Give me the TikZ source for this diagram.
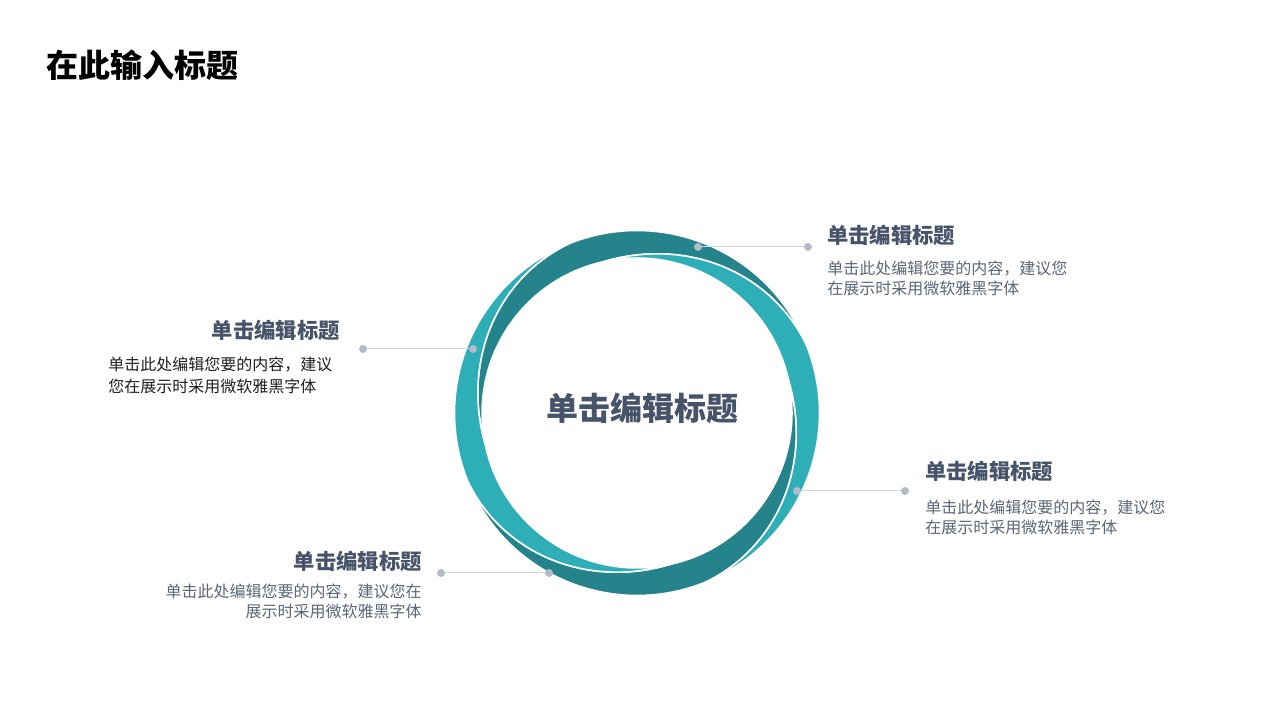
\documentclass[tikz,border=0pt]{standalone}
\usepackage{fontspec}
\setmainfont{Noto Sans CJK SC}
\definecolor{lightteal}{HTML}{2EAFB8}
\definecolor{darkteal}{HTML}{24838B}
\definecolor{slate}{HTML}{465369}
\definecolor{bodygray}{HTML}{5C6677}
\definecolor{dotgray}{HTML}{B3BBC9}
\definecolor{linegray}{HTML}{D3D8DF}
% one spiral piece of the ring: #1 = angle where its cut leaves the inner circle, #2 = colour
\newcommand\ringpiece[2]{%
  \path[fill=#2, draw=white, line width=1.2pt]
    plot[domain=0:1, samples=50, variable=\t] ({#1-80*\t}:{155+27.5*(0.6*\t+0.2-0.2*cos(180*\t))})
    arc[start angle=#1-80, end angle=#1-170, radius=182.5]
    -- plot[domain=1:0, samples=50, variable=\t] ({#1-90-80*\t}:{155+27.5*(0.6*\t+0.2-0.2*cos(180*\t))})
    arc[start angle=#1-90, end angle=#1, radius=155]
    -- cycle;}
\tikzset{
  headtxt/.style={inner sep=0pt, text=slate, font=\fontsize{16}{19}\selectfont\bfseries},
  bodytxt/.style={inner sep=0pt, text=bodygray, font=\fontsize{12}{15}\selectfont},
  dotmark/.style={circle, fill=dotgray, inner sep=0pt, minimum size=6pt},
  leader/.style={draw=linegray, line width=0.75pt}
}
\begin{document}
\begin{tikzpicture}[x=0.75pt,y=0.75pt]
\useasboundingbox (0,0) rectangle (1280,720);
\fill[white] (0,0) rectangle (1280,720);

% title
\node[anchor=west, inner sep=0pt, font=\fontsize{24}{28}\selectfont\bfseries] (title) at (46,655) {在此输入标题};

% ring of four interlocking spiral pieces
\begin{scope}[shift={(637,307)}]
  \ringpiece{192}{darkteal}
  \ringpiece{102}{lightteal}
  \ringpiece{12}{darkteal}
  \ringpiece{-78}{lightteal}
\end{scope}

% center text
\node[inner sep=0pt, text=slate, font=\fontsize{24}{28}\selectfont\bfseries] (center) at (642,312) {单击编辑标题};

% leaders and dots
\node[dotmark] (r1) at (698,473) {};
\node[dotmark] (e1) at (808,473) {};
\node[dotmark] (e2) at (363,371) {};
\node[dotmark] (r2) at (473,371) {};
\node[dotmark] (r3) at (797,229) {};
\node[dotmark] (e3) at (905,229) {};
\node[dotmark] (e4) at (441,147) {};
\node[dotmark] (r4) at (549,147) {};
\draw[leader] (r1) -- (e1);
\draw[leader] (e2) -- (r2);
\draw[leader] (r3) -- (e3);
\draw[leader] (e4) -- (r4);

% top right block
\node[headtxt, anchor=west] (h1) at (827,485) {单击编辑标题};
\node[bodytxt, anchor=west, align=left] (b1) at (827,442) {单击此处编辑您要的内容，建议您\\在展示时采用微软雅黑字体};

% left block
\node[headtxt, anchor=east] (h2) at (340,390) {单击编辑标题};
\node[bodytxt, anchor=west, align=left, text=black!88, font=\fontsize{12}{16.5}\selectfont] (b2) at (108,345) {单击此处编辑您要的内容，建议\\您在展示时采用微软雅黑字体};

% right block
\node[headtxt, anchor=west] (h3) at (925,249) {单击编辑标题};
\node[bodytxt, anchor=west, align=left] (b3) at (925,203) {单击此处编辑您要的内容，建议您\\在展示时采用微软雅黑字体};

% bottom left block
\node[headtxt, anchor=east] (h4) at (422,159) {单击编辑标题};
\node[bodytxt, anchor=east, align=right] (b4) at (422,119) {单击此处编辑您要的内容，建议您在\\展示时采用微软雅黑字体};
\end{tikzpicture}
\end{document}
